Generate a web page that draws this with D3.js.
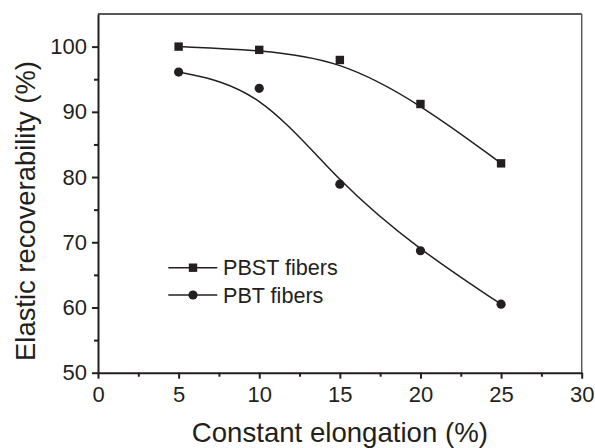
<!DOCTYPE html>
<html>
<head>
<meta charset="utf-8">
<script src="https://cdn.jsdelivr.net/npm/d3@7"></script>
<style>
  html, body { margin: 0; padding: 0; background: #fff; }
  svg { display: block; font-family: Arial, "Liberation Sans", Helvetica, sans-serif; }
</style>
</head>
<body>
<svg id="chart" width="595" height="448"></svg>
<script>
const elongation = [5, 10, 15, 20, 25];
const pbst = [100, 99.5, 97.95, 91.2, 82.1];
const pbt = [96.1, 93.6, 78.9, 68.7, 60.5];
const seriesNames = ["PBST fibers", "PBT fibers"];
const xTicks = [0, 5, 10, 15, 20, 25, 30];
const yTicks = [50, 60, 70, 80, 90, 100];
const xMinor = [2.5, 7.5, 12.5, 17.5, 22.5, 27.5];
const yMinor = [55, 65, 75, 85, 95];

const ink = "#231f20";
const svg = d3.select("#chart");
const x = d3.scaleLinear().domain([0, 30]).range([98, 581.7]);
const y = d3.scaleLinear().domain([50, 105]).range([372.7, 14]);

// frame top/right
svg.append("line").attr("x1", x(0)).attr("x2", x(30)).attr("y1", y(105)).attr("y2", y(105))
  .attr("stroke", ink).attr("stroke-width", 1.5);
svg.append("line").attr("x1", x(30)).attr("x2", x(30)).attr("y1", y(105)).attr("y2", y(50))
  .attr("stroke", "#5a5a5a").attr("stroke-width", 1.5);

function styleAxis(g) {
  g.select(".domain").attr("stroke", ink).attr("stroke-width", 2);
  g.selectAll(".tick line").attr("stroke", ink).attr("stroke-width", 2);
  g.selectAll(".tick text").attr("fill", ink).attr("font-size", "22px");
  g.attr("font-family", null);
}

// minor ticks
svg.append("g").attr("transform", `translate(0,${y(50)})`)
  .call(d3.axisBottom(x).tickValues(xMinor).tickSize(4).tickFormat(""))
  .call(g => { g.select(".domain").remove(); g.selectAll("line").attr("stroke", ink).attr("stroke-width", 2); });
svg.append("g").attr("transform", `translate(${x(0)},0)`)
  .call(d3.axisLeft(y).tickValues(yMinor).tickSize(4).tickFormat(""))
  .call(g => { g.select(".domain").remove(); g.selectAll("line").attr("stroke", ink).attr("stroke-width", 2); });

// major axes
svg.append("g").attr("transform", `translate(0,${y(50)})`)
  .call(d3.axisBottom(x).tickValues(xTicks).tickSize(6).tickSizeOuter(0).tickPadding(8).tickFormat(d3.format("d")))
  .call(styleAxis);
svg.append("g").attr("transform", `translate(${x(0)},0)`)
  .call(d3.axisLeft(y).tickValues(yTicks).tickSize(6).tickSizeOuter(0).tickPadding(5).tickFormat(d3.format("d")))
  .call(styleAxis);

// axis titles
svg.append("text").attr("x", (x(0) + x(30)) / 2).attr("y", 441.5)
  .attr("text-anchor", "middle").attr("font-size", "27.6px").attr("fill", ink)
  .text("Constant elongation (%)");
svg.append("text").attr("transform", "translate(35,211) rotate(-90)")
  .attr("text-anchor", "middle").attr("font-size", "27.4px").attr("fill", ink)
  .text("Elastic recoverability (%)");

// curves
const line = d3.line().x((d, i) => x(elongation[i])).y(d => y(d)).curve(d3.curveBasis);
[pbst, pbt].forEach(s => {
  svg.append("path").attr("d", line(s)).attr("fill", "none").attr("stroke", ink).attr("stroke-width", 1.5);
});

// markers
svg.append("g").selectAll("rect").data(pbst).join("rect")
  .attr("x", (d, i) => x(elongation[i]) - 4.2).attr("y", d => y(d) - 4.2)
  .attr("width", 8.4).attr("height", 8.4).attr("fill", ink);
svg.append("g").selectAll("circle").data(pbt).join("circle")
  .attr("cx", (d, i) => x(elongation[i])).attr("cy", d => y(d)).attr("r", 4.6).attr("fill", ink);

// legend
const legY = [267.7, 295];
seriesNames.forEach((name, i) => {
  const g = svg.append("g");
  g.append("line").attr("x1", 168.3).attr("x2", 217.3).attr("y1", legY[i]).attr("y2", legY[i])
    .attr("stroke", ink).attr("stroke-width", 1.5);
  if (i === 0) {
    g.append("rect").attr("x", 193 - 4.2).attr("y", legY[i] - 4.2).attr("width", 8.4).attr("height", 8.4).attr("fill", ink);
  } else {
    g.append("circle").attr("cx", 193).attr("cy", legY[i]).attr("r", 4.6).attr("fill", ink);
  }
  g.append("text").attr("x", 223).attr("y", legY[i]).attr("dy", "0.36em")
    .attr("font-size", "21.6px").attr("fill", ink).text(name);
});
</script>
</body>
</html>
